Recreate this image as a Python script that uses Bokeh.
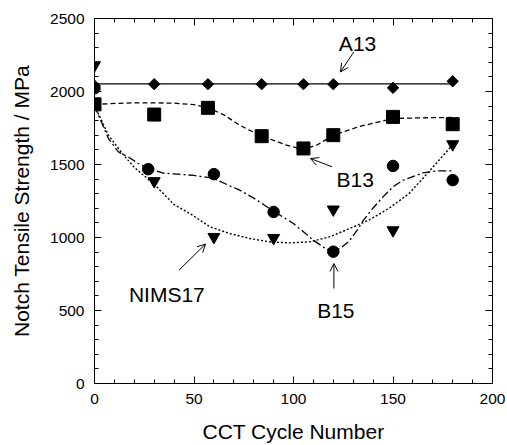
import math
from bokeh.plotting import figure
from bokeh.models import (LinearAxis, SingleIntervalTicker, Label, Arrow, OpenHead,
                          Range1d, CustomJSTickFormatter)
from bokeh.embed import file_html
from bokeh.resources import INLINE

# ---- data ----
a13_x = [0, 30, 57, 84, 105, 120, 150, 180]
a13_y = [2040, 2050, 2050, 2050, 2050, 2050, 2025, 2070]
a13_fit_x = [0, 180]
a13_fit_y = [2052, 2052]

b13_x = [0, 30, 57, 84, 105, 120, 150, 180]
b13_y = [1912, 1842, 1888, 1694, 1610, 1701, 1826, 1776]
b13_fit_x = [0, 10, 20, 30, 40, 50, 57, 65, 73, 84, 90, 96, 100, 105, 112, 120, 133, 150, 165, 180]
b13_fit_y = [1912, 1918, 1922, 1922, 1920, 1910, 1890, 1840, 1769, 1694, 1665, 1635, 1620, 1603, 1635, 1700, 1760, 1815, 1820, 1822]

b15_x = [0, 27, 60, 90, 120, 150, 180]
b15_y = [2022, 1468, 1434, 1175, 903, 1490, 1393]
b15_fit_x = [0, 2, 7, 12, 17, 22, 27, 35, 42, 50, 60, 67, 73, 80, 90, 100, 110, 116, 120, 124, 128, 132, 135, 139, 145, 150, 155, 165, 172, 180]
b15_fit_y = [1906, 1838, 1678, 1586, 1552, 1507, 1473, 1440, 1434, 1425, 1405, 1360, 1324, 1270, 1180, 1096, 981, 925, 905, 930, 975, 1050, 1115, 1187, 1278, 1347, 1392, 1442, 1456, 1456]

nims_x = [0, 30, 60, 90, 120, 150, 180]
nims_y = [2180, 1386, 1004, 997, 1192, 1050, 1639]
nims_fit_x = [0, 7, 14, 20, 30, 40, 48, 58, 68, 78, 88, 98, 108, 118, 128, 138, 148, 158, 168, 180]
nims_fit_y = [1905, 1700, 1575, 1480, 1365, 1225, 1164, 1073, 1027, 993, 970, 963, 970, 1004, 1060, 1120, 1200, 1300, 1450, 1635]

x_title = "CCT Cycle Number"
y_title = "Notch Tensile Strength / MPa"

FONT = "Liberation Sans"

p = figure(width=507, height=445, x_range=Range1d(0, 200), y_range=Range1d(0, 2500),
           output_backend="svg", toolbar_location=None,
           min_border_left=94, min_border_right=15, min_border_top=18, min_border_bottom=62,
           x_axis_type=None, y_axis_type=None)
p.xgrid.visible = False
p.ygrid.visible = False
p.outline_line_color = "black"
p.outline_line_width = 1
p.background_fill_color = "white"
p.border_fill_color = "white"


def make_axis(interval, labels=True, title=None):
    ax = LinearAxis(ticker=SingleIntervalTicker(interval=interval, num_minor_ticks=5))
    ax.major_tick_in = 7
    ax.major_tick_out = 0
    ax.minor_tick_in = 4
    ax.minor_tick_out = 0
    ax.axis_line_color = "black"
    ax.major_tick_line_color = "black"
    ax.minor_tick_line_color = "black"
    if labels:
        ax.major_label_text_font = FONT
        ax.major_label_text_font_size = "15.5px"
        ax.major_label_text_color = "black"
        ax.major_label_standoff = 10
    else:
        ax.formatter = CustomJSTickFormatter(code="return ''")
        ax.major_label_standoff = 0
    if title:
        ax.axis_label = title
        ax.axis_label_text_font = FONT
        ax.axis_label_text_font_size = "21px"
        ax.axis_label_text_font_style = "normal"
        ax.axis_label_text_color = "black"
    return ax


bx = make_axis(50, True, x_title)
bx.axis_label_standoff = 13
p.add_layout(bx, "below")
ly = make_axis(500, True, y_title)
ly.axis_label_standoff = 14
p.add_layout(ly, "left")
p.add_layout(make_axis(50, False), "above")
p.add_layout(make_axis(500, False), "right")

# fitted curves
p.line(a13_fit_x, a13_fit_y, line_color="black", line_width=1.3)
p.line(b13_fit_x, b13_fit_y, line_color="black", line_width=1.3, line_dash="5 3")
p.line(b15_fit_x, b15_fit_y, line_color="black", line_width=1.3, line_dash="8 3 2 3")
p.line(nims_fit_x, nims_fit_y, line_color="black", line_width=1.4, line_dash="2 2")

# markers
p.scatter(a13_x, a13_y, marker="square", angle=math.pi / 4, size=8, color="black")
p.scatter(b13_x, b13_y, marker="square", size=13, color="black")
p.scatter(b15_x, b15_y, marker="circle", size=11.5, color="black")
p.scatter(nims_x, nims_y, marker="inverted_triangle", size=12, color="black")

# annotations
for txt, x, y in [("A13", 122.8, 2329), ("B13", 121.6, 1397), ("B15", 111.9, 497), ("NIMS17", 17.3, 612)]:
    p.add_layout(Label(x=x, y=y, text=txt, text_font=FONT, text_font_size="21px",
                       text_color="black", text_align="left", text_baseline="alphabetic"))

for (x0, y0, x1, y1) in [(130.3, 2271, 123.6, 2134), (119.4, 1484, 108.5, 1541),
                         (120.3, 651, 120.3, 822), (42.4, 776, 55.8, 955)]:
    p.add_layout(Arrow(x_start=x0, y_start=y0, x_end=x1, y_end=y1, line_color="black", line_width=1,
                       end=OpenHead(size=8, line_color="black", line_width=1)))

open("out.html", "w").write(file_html(p, INLINE))
